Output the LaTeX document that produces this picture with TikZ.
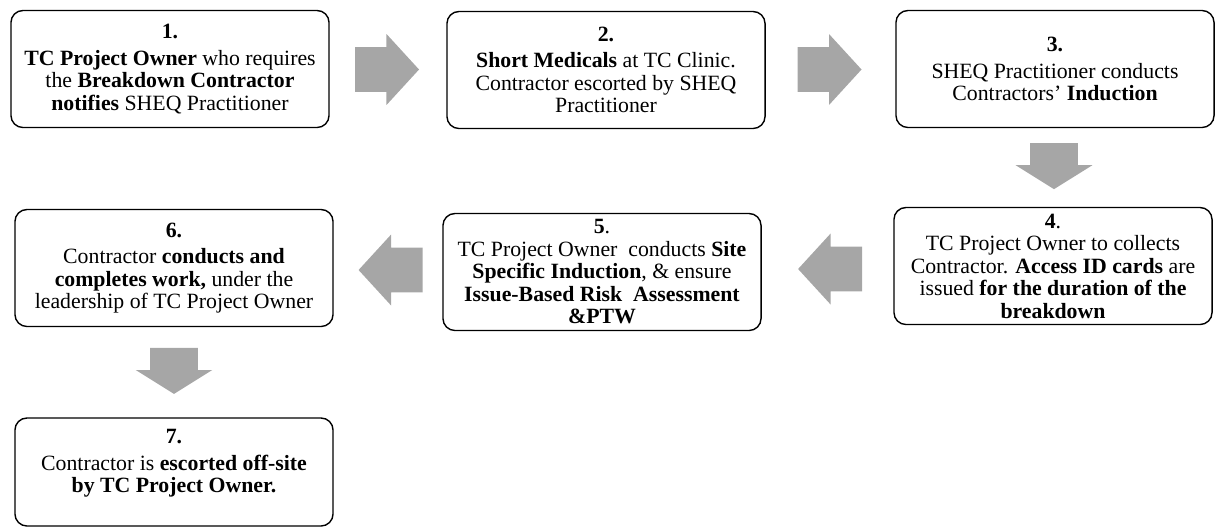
\documentclass[tikz,border=0pt]{standalone}
\usepackage{fontspec}
\setmainfont{Liberation Serif}
\usetikzlibrary{calc,positioning,shapes.arrows}
\definecolor{arrg}{RGB}{166,166,166}
\tikzset{
  stp/.style={rectangle,rounded corners=3mm,draw=black,line width=1pt,minimum width=7.95cm,minimum height=2.925cm,inner sep=2pt,align=center,font=\fontsize{15.5}{16}\selectfont},
  harr/.style={single arrow,fill=arrg,draw=none,minimum height=1.6cm,single arrow head extend=0.33cm,single arrow tip angle=95,inner sep=0pt,xshift=-0.28cm,node contents={\rule{0pt}{1.1cm}}},
  larr/.style={harr,shape border rotate=180,xshift=0.6cm},
  varr/.style={single arrow,fill=arrg,draw=none,minimum height=1.15cm,single arrow head extend=0.36cm,single arrow tip angle=116,inner sep=0pt,shape border rotate=270,yshift=0.22cm,node contents={\rule{1.18cm}{0pt}}},
}
\begin{document}
\begin{tikzpicture}[x=0.025cm,y=-0.025cm]
  \useasboundingbox (0,0) rectangle (1216,529);
  % steps, top row left to right, then back
  \node[stp] (s1) at (170,69){\textbf{1.}\\[3pt]\textbf{TC Project Owner} who requires\\the \textbf{Breakdown Contractor}\\\textbf{notifies} SHEQ Practitioner};
  \node[stp] (s2) at (606,70){\textbf{2.}\\[3pt]\textbf{Short Medicals} at TC Clinic.\\Contractor escorted by SHEQ\\Practitioner};
  \node[stp] (s3) at (1055,69){\textbf{3.}\\[3pt]SHEQ Practitioner conducts\\Contractors’ \textbf{Induction}};
  \node[stp] (s4) at (1053,266){\textbf{4}.\\TC Project Owner to collects\\Contractor. \textbf{Access ID cards} are\\issued \textbf{for the duration of the}\\\textbf{breakdown}};
  \node[stp] (s5) at (602,272){\textbf{5}.\\TC Project Owner\ \ conducts \textbf{Site}\\\textbf{Specific Induction}, \& ensure\\\textbf{Issue-Based Risk\ \ Assessment}\\\textbf{\&PTW}};
  \node[stp] (s6) at (174,268){\textbf{6.}\\[3pt]Contractor \textbf{conducts and}\\\textbf{completes work,} under the\\leadership of TC Project Owner};
  \node[stp,minimum height=2.7cm,text depth=0.55cm] (s7) at (174,472){\textbf{7.}\\[3pt]Contractor is \textbf{escorted off-site}\\\textbf{by TC Project Owner.}};
  % block arrows between steps
  \node (a12) at ($(s1.east)!0.5!(s2.west)$) [harr];
  \node (a23) at ($(s2.east)!0.5!(s3.west)$) [harr];
  \node (a34) at ($(s3.south)!0.5!(s4.north)$) [varr];
  \node (a45) at ($(s4.west)!0.5!(s5.east)$) [larr];
  \node (a56) at ($(s5.west)!0.5!(s6.east)$) [larr];
  \node (a67) at ($(s6.south)!0.5!(s7.north)$) [varr];
\end{tikzpicture}
\end{document}
